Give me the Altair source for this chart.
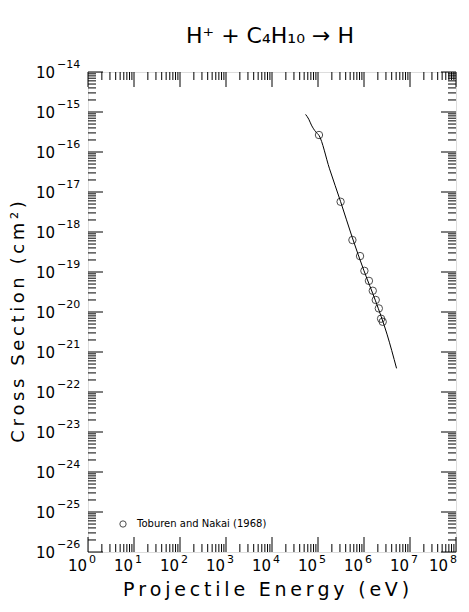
import altair as alt
import pandas as pd

# ---- data ----
curve_energy = [5.37e4, 6.3e4, 7.2e4, 8.9e4, 1.05e5, 1.78e5, 3.1e5, 5.6e5, 1.0e6, 1.78e6, 3.16e6, 5.1e6]
curve_sigma = [8.7e-16, 6.6e-16, 4.7e-16, 3.2e-16, 2.6e-16, 3.8e-17, 5.75e-18, 7.1e-19, 1.07e-19, 1.9e-20, 2.8e-21, 3.9e-22]

pts_energy = [1.05e5, 3.1e5, 5.6e5, 8.2e5, 1.02e6, 1.28e6, 1.55e6, 1.8e6, 2.1e6, 2.35e6, 2.55e6]
pts_sigma = [2.66e-16, 5.7e-18, 6.3e-19, 2.5e-19, 1.07e-19, 6.0e-20, 3.4e-20, 2.0e-20, 1.23e-20, 6.8e-21, 5.7e-21]

x_exponents = list(range(0, 9))
y_exponents = list(range(-26, -13))

title_text = "H\u207a  +  C\u2084H\u2081\u2080  \u2192  H"
x_title = "Projectile Energy (eV)"
y_title = "Cross Section (cm\u00b2)"
legend_label = "Toburen and Nakai (1968)"

W, H = 368, 480
FONT = "DejaVu Sans"


def spaced(s, sep="\u2009"):
    return sep.join(list(s))


xdom = [1, 1e8]
ydom = [1e-26, 1e-14]
xs = alt.Scale(type="log", domain=xdom, nice=False)
ys = alt.Scale(type="log", domain=ydom, nice=False)

curve_df = pd.DataFrame({"E": curve_energy, "S": curve_sigma})
pts_df = pd.DataFrame({"E": pts_energy, "S": pts_sigma})

# tick tables
xmaj = pd.DataFrame({"v": [10.0 ** e for e in x_exponents]})
xmin = pd.DataFrame({"v": [k * 10.0 ** e for e in x_exponents[:-1] for k in range(2, 10)]})
ymaj = pd.DataFrame({"v": [10.0 ** e for e in y_exponents]})
ymin = pd.DataFrame({"v": [k * 10.0 ** e for e in y_exponents[:-1] for k in range(2, 10)]})

MAJ, MIN = 15, 8


def xticks(df, L):
    bot = alt.Chart(df).mark_rule(color="black", strokeWidth=1).encode(
        x=alt.X("v:Q", scale=xs, axis=None), y=alt.value(H), y2=alt.value(H - L))
    top = alt.Chart(df).mark_rule(color="black", strokeWidth=1).encode(
        x=alt.X("v:Q", scale=xs, axis=None), y=alt.value(0), y2=alt.value(L))
    return [bot, top]


def yticks(df, L):
    left = alt.Chart(df).mark_rule(color="black", strokeWidth=1).encode(
        y=alt.Y("v:Q", scale=ys, axis=None), x=alt.value(0), x2=alt.value(L))
    right = alt.Chart(df).mark_rule(color="black", strokeWidth=1).encode(
        y=alt.Y("v:Q", scale=ys, axis=None), x=alt.value(W - L), x2=alt.value(W))
    return [left, right]


layers = []
layers += xticks(xmaj, MAJ) + xticks(xmin, MIN) + yticks(ymaj, MAJ) + yticks(ymin, MIN)

line = alt.Chart(curve_df).mark_line(color="black", strokeWidth=1, interpolate="monotone").encode(
    x=alt.X("E:Q", scale=xs, axis=None), y=alt.Y("S:Q", scale=ys, axis=None))
points = alt.Chart(pts_df).mark_point(shape="circle", filled=False, color="black", size=55, strokeWidth=1).encode(
    x=alt.X("E:Q", scale=xs, axis=None), y=alt.Y("S:Q", scale=ys, axis=None))
layers += [line, points]

# tick labels
sup = str.maketrans("-", "\u2212")
ylab = pd.DataFrame({"v": [10.0 ** e for e in y_exponents],
                     "base": ["10"] * len(y_exponents),
                     "exp": [str(e).translate(sup) for e in y_exponents]})
xlab = pd.DataFrame({"v": [10.0 ** e for e in x_exponents],
                     "base": ["10"] * len(x_exponents),
                     "exp": [str(e) for e in x_exponents]})
xlab_in = xlab.iloc[:-1]
xlab_last = xlab.iloc[-1:]

layers.append(alt.Chart(ylab).mark_text(align="right", baseline="middle", fontSize=15, font=FONT, dy=1).encode(
    y=alt.Y("v:Q", scale=ys, axis=None), x=alt.value(-33), text="base:N"))
layers.append(alt.Chart(ylab).mark_text(align="left", baseline="middle", fontSize=11, font=FONT, dy=-7).encode(
    y=alt.Y("v:Q", scale=ys, axis=None), x=alt.value(-31), text="exp:N"))


def xlabels(df, shift):
    return [
        alt.Chart(df).mark_text(align="right", baseline="middle", fontSize=15, font=FONT, dx=shift).encode(
            x=alt.X("v:Q", scale=xs, axis=None), y=alt.value(H + 14), text="base:N"),
        alt.Chart(df).mark_text(align="left", baseline="middle", fontSize=11, font=FONT, dx=shift + 2).encode(
            x=alt.X("v:Q", scale=xs, axis=None), y=alt.value(H + 8), text="exp:N"),
    ]


layers += xlabels(xlab_in, -1) + xlabels(xlab_last, -8)

# titles
layers.append(alt.Chart(pd.DataFrame({"t": [title_text]})).mark_text(
    fontSize=22, font=FONT, baseline="middle", align="center").encode(
    x=alt.value(W / 2 - 2), y=alt.value(-36), text="t:N"))
layers.append(alt.Chart(pd.DataFrame({"t": [spaced(x_title)]})).mark_text(
    fontSize=19, font=FONT, baseline="middle", align="center").encode(
    x=alt.value(W / 2 - 6), y=alt.value(H + 38), text="t:N"))
layers.append(alt.Chart(pd.DataFrame({"t": [spaced(y_title)]})).mark_text(
    fontSize=18, font=FONT, baseline="middle", align="center", angle=270).encode(
    x=alt.value(-69), y=alt.value(250), text="t:N"))

# legend
layers.append(alt.Chart(pd.DataFrame({"t": [legend_label]})).mark_point(
    shape="circle", filled=False, color="black", size=40, strokeWidth=1).encode(
    x=alt.value(35), y=alt.value(452)))
layers.append(alt.Chart(pd.DataFrame({"t": [legend_label]})).mark_text(
    fontSize=10, font=FONT, align="left", baseline="middle").encode(
    x=alt.value(49), y=alt.value(452), text="t:N"))

chart = alt.layer(*layers).properties(
    width=W, height=H,
    autosize=alt.AutoSizeParams(type="none"),
    padding={"left": 80, "top": 64, "right": 5, "bottom": 50},
).configure_view(stroke="black", strokeWidth=1.5).configure(background="white")

chart.save("out.html", embed_options={"renderer": "svg", "actions": False})
